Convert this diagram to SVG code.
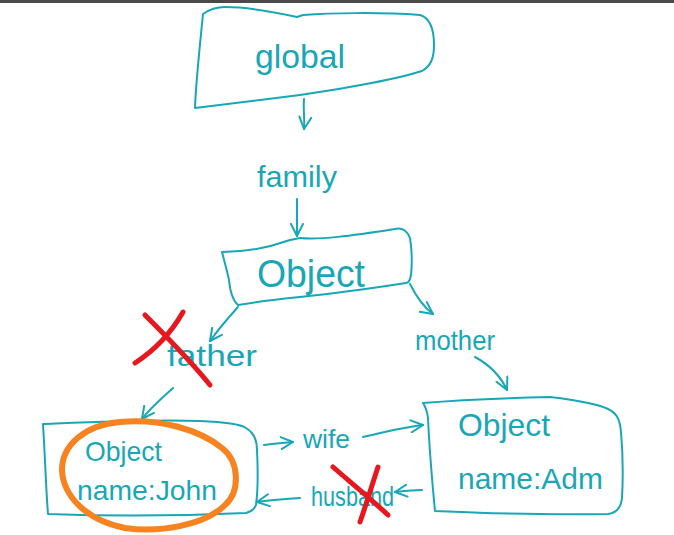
<svg xmlns="http://www.w3.org/2000/svg" width="674" height="535" viewBox="0 0 674 535">
  <style>
    .ink { fill: none; stroke: #17a7b6; stroke-width: 2; stroke-linecap: round; stroke-linejoin: round; }
    .lbl { font-family: "Liberation Sans", Arial, sans-serif; fill: #17a7b6; }
    .red { fill: none; stroke: #e8161d; stroke-width: 5; stroke-linecap: round; }
    .orange { fill: none; stroke: #f6831f; stroke-width: 6; }
  </style>
  <defs>
    <marker id="chev" viewBox="0 0 14 14" refX="13" refY="7" markerWidth="14" markerHeight="14" markerUnits="userSpaceOnUse" orient="auto">
      <path d="M1,1 L13,7 L1,13" fill="none" stroke="#17a7b6" stroke-width="2" stroke-linecap="round" stroke-linejoin="round"/>
    </marker>
  </defs>
  <rect x="0" y="0" width="674" height="3" fill="#4a4a4a"/>

  <g id="node-global">
    <path class="ink" d="M203,14 C210,9 218,7 225,7 C245,7 270,11 297,17 L303,15 C330,13 380,12 420,15 C430,18 434,30 434,45 C434,58 431,66 422,71 C400,78 350,88 300,95 C260,100 225,104 195,108 C196,80 200,45 203,14 Z"/>
    <text class="lbl" x="255" y="68" font-size="34" textLength="90" lengthAdjust="spacingAndGlyphs">global</text>
  </g>

  <g id="node-object">
    <path class="ink" d="M222,252 C240,252 265,249 290,240 L300,238 C320,240 350,236 395,229 C403,227 408,232 410,238 C412,250 412,265 411,275 C410,281 408,283 406,283 C380,287 340,293 300,297 C280,299 255,302 238,305 C232,300 230,290 229,280 C227,270 224,260 222,252 Z"/>
    <text class="lbl" x="257" y="287" font-size="38" textLength="108" lengthAdjust="spacingAndGlyphs">Object</text>
  </g>

  <g id="node-john">
    <path class="ink" d="M43,424 C90,422 150,419 200,421 C225,422 240,424 246,428 C253,432 257,440 257,450 C258,470 258,490 256,505 C254,510 250,512 246,513 C200,515 130,517 48,514 C46,490 45,455 43,424 Z"/>
    <text class="lbl" x="85" y="461" font-size="28" textLength="77" lengthAdjust="spacingAndGlyphs">Object</text>
    <text class="lbl" x="77" y="500" font-size="28" textLength="140" lengthAdjust="spacingAndGlyphs">name:John</text>
  </g>

  <g id="node-adm">
    <path class="ink" d="M423,403 C460,400 510,398 550,397 C575,400 598,404 608,409 C617,413 620,420 621,432 C623,455 623,480 622,498 C621,508 616,513 608,514 C560,515 480,513 435,511 C432,480 429,440 428,418 C427,410 425,406 423,403 Z"/>
    <text class="lbl" x="458" y="436" font-size="32" textLength="92" lengthAdjust="spacingAndGlyphs">Object</text>
    <text class="lbl" x="458" y="489" font-size="30" textLength="145" lengthAdjust="spacingAndGlyphs">name:Adm</text>
  </g>

  <g id="connectors">
    <path class="ink" marker-end="url(#chev)" d="M304,99 C303,110 305,120 304,129"/>
    <text class="lbl" x="257" y="187" font-size="30" textLength="80" lengthAdjust="spacingAndGlyphs">family</text>
    <path class="ink" marker-end="url(#chev)" d="M297,199 L297,236"/>

    <path class="ink" marker-end="url(#chev)" d="M238,307 C228,318 218,330 210,341"/>
    <text class="lbl" x="167" y="366" font-size="30" textLength="90" lengthAdjust="spacingAndGlyphs">father</text>
    <path class="ink" marker-end="url(#chev)" d="M173,388 C162,398 150,408 142,419"/>

    <path class="ink" marker-end="url(#chev)" d="M410,284 C416,296 422,306 433,314"/>
    <text class="lbl" x="415" y="350" font-size="28" textLength="80" lengthAdjust="spacingAndGlyphs">mother</text>
    <path class="ink" marker-end="url(#chev)" d="M475,357 C488,364 500,375 507,390"/>

    <path class="ink" marker-end="url(#chev)" d="M264,445 C272,444 282,443 293,442"/>
    <text class="lbl" x="303" y="448" font-size="26" textLength="47" lengthAdjust="spacingAndGlyphs">wife</text>
    <path class="ink" marker-end="url(#chev)" d="M363,437 C385,432 405,427 423,425"/>

    <path class="ink" marker-end="url(#chev)" d="M422,490 C412,490 404,491 395,492"/>
    <text class="lbl" x="311" y="506" font-size="28" textLength="83" lengthAdjust="spacingAndGlyphs">husband</text>
    <path class="ink" marker-end="url(#chev)" d="M300,498 C285,499 270,500 257,502"/>
  </g>

  <g id="annotations">
    <path class="red" d="M145,315 C165,335 190,360 210,385"/>
    <path class="red" d="M183,312 C170,335 155,350 135,363"/>
    <path class="red" d="M333,467 C350,482 370,498 388,515"/>
    <path class="red" d="M378,467 C372,485 366,505 360,522"/>
    <path class="orange" d="M120,422 C160,418 200,430 222,448 C240,462 240,492 225,505 C205,525 160,533 125,528 C85,520 63,495 62,470 C62,445 85,425 120,422 Z"/>
  </g>
</svg>
